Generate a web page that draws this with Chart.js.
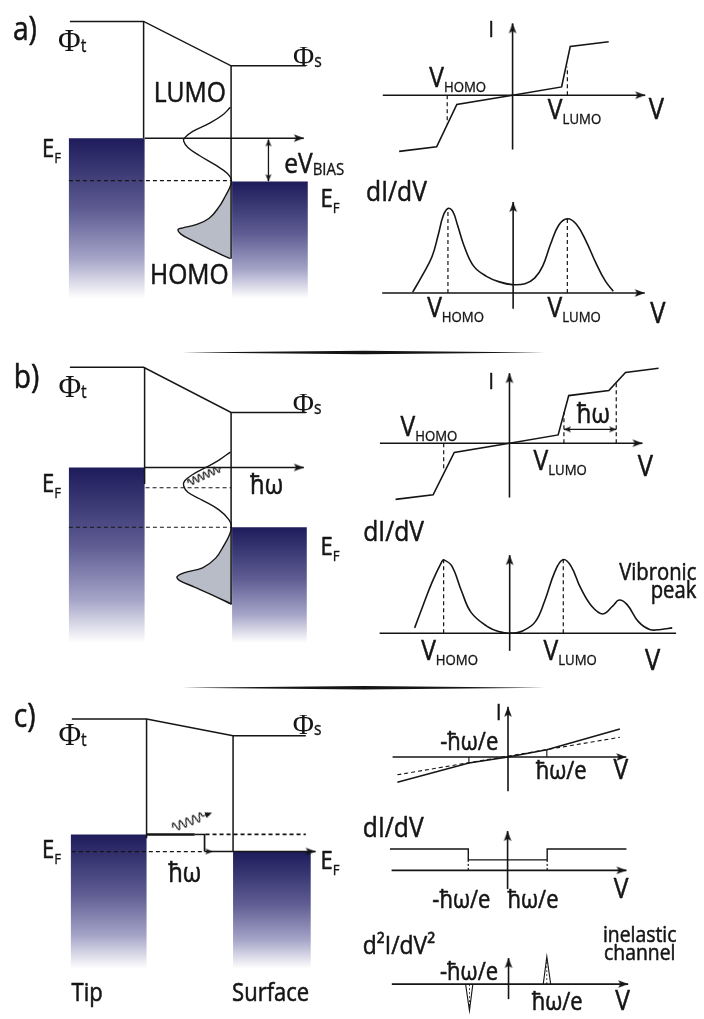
<!DOCTYPE html>
<html>
<head>
<meta charset="utf-8">
<script src="https://cdn.jsdelivr.net/npm/chart.js@4.4.1/dist/chart.umd.min.js"></script>
<style>
  html, body { margin: 0; padding: 0; background: #fff; overflow: hidden; }
  #page { position: relative; width: 704px; height: 1019px; }
  #page canvas { position: absolute; }
</style>
</head>
<body>
<div id="page"></div>
<script>
// ---- panel a, energy diagram (x = position, y = energy relative to tip E_F)
const aVacuum   = [[0.65, 1.21], [1.40, 1.21], [2.29, 0.75], [3.05, 0.75]];
const aTipWall  = [[1.40, 1.21], [1.40, 0]];
const aSurfWall = [[2.29, 0.75], [2.29, -1.25]];
const aTipBand  = [[0.64, -1.66], [0.64, 0], [1.41, 0], [1.41, -1.66]];
const aSurfBand = [[2.30, -1.66], [2.30, -0.45], [3.07, -0.45], [3.07, -1.66]];
const aFermi    = [[1.41, 0], [3.03, 0]];
const aBias     = [[2.67, -0.013], [2.67, -0.447]];
const aSurfEF   = [[0.64, -0.44], [2.29, -0.44]];
const aDos = [[2.283, 0.32], [2.20, 0.237], [2.067, 0.153], [1.90, 0.07], [1.817, 0.003], [1.807, -0.03],
  [1.85, -0.097], [1.967, -0.18], [2.133, -0.28], [2.25, -0.363], [2.293, -0.43], [2.283, -0.497],
  [2.233, -0.597], [2.167, -0.713], [2.067, -0.83], [1.933, -0.897], [1.80, -0.93], [1.75, -0.947],
  [1.783, -0.997], [1.90, -1.063], [2.067, -1.147], [2.20, -1.213], [2.283, -1.247]];
const aHomo = aDos.slice(10);

// ---- panel a, I(V) and dI/dV
const ivA = [[-1.18, -0.61], [-0.79, -0.56], [-0.58, -0.10], [0, 0], [0.51, 0.09], [0.60, 0.53], [1.00, 0.58]];
const ivAMarks = [[[-0.68, 0], [-0.68, -0.31]], [[0.57, 0], [0.57, 0.31]]];
const didvA = [[-1.043, 0.01], [-0.943, 0.19], [-0.843, 0.39], [-0.777, 0.63], [-0.727, 0.83], [-0.677, 0.91],
  [-0.627, 0.88], [-0.577, 0.73], [-0.51, 0.51], [-0.41, 0.29], [-0.277, 0.18], [-0.143, 0.12], [-0.01, 0.09],
  [0.123, 0.10], [0.223, 0.16], [0.307, 0.29], [0.39, 0.53], [0.473, 0.73], [0.563, 0.80], [0.657, 0.74],
  [0.757, 0.56], [0.857, 0.33], [0.957, 0.13], [1.04, 0.02]];
const didvAMarks = [[[-0.677, 0], [-0.677, 0.91]], [[0.563, 0], [0.563, 0.80]]];

// ---- panel b, energy diagram
const bVacuum   = [[0.65, 1.04], [1.40, 1.04], [2.29, 0.57], [3.05, 0.57]];
const bTipWall  = [[1.41, 1.04], [1.41, -0.17]];
const bSurfWall = [[2.29, 0.57], [2.29, -1.42]];
const bTipBand  = [[0.64, -1.82], [0.64, 0], [1.41, 0], [1.41, -1.82]];
const bSurfBand = [[2.30, -1.82], [2.30, -0.62], [3.06, -0.62], [3.06, -1.82]];
const bFermi    = [[1.41, 0], [3.03, 0]];
const bSurfEF   = [[0.64, -0.62], [2.29, -0.62]];
const bVibLevel = [[1.42, -0.21], [2.29, -0.21]];
const bDos = [[2.283, 0.16], [2.167, 0.077], [2.033, 0.0], [1.90, -0.073], [1.817, -0.14], [1.807, -0.19],
  [1.85, -0.257], [2.00, -0.34], [2.167, -0.44], [2.267, -0.54], [2.293, -0.607], [2.277, -0.69],
  [2.217, -0.807], [2.133, -0.94], [2.00, -1.04], [1.817, -1.09], [1.74, -1.133], [1.767, -1.173],
  [1.917, -1.24], [2.10, -1.323], [2.293, -1.417]];
const bHomo = bDos.slice(10);
const bPhonon = [[2.02, -0.082]];
const sepAB = [[1.79, 1.193], [3.64, 1.211], [5.48, 1.193], [3.64, 1.175]];

// ---- panel b, I(V) and dI/dV
const ivB = [[-1.184, -0.61], [-0.794, -0.56], [-0.574, -0.10], [0, 0], [0.506, 0.09], [0.616, 0.517],
  [1.033, 0.573], [1.206, 0.767], [1.55, 0.813]];
const ivBMarks = [[[-0.684, 0], [-0.684, -0.29]], [[0.566, 0], [0.566, 0.34]], [[1.11, 0], [1.11, 0.67]]];
const ivBQuantum = [[0.566, 0.15], [1.11, 0.15]];
const didvB = [[-0.984, 0.057], [-0.90, 0.29], [-0.80, 0.557], [-0.70, 0.774], [-0.684, 0.79], [-0.60, 0.724],
  [-0.50, 0.457], [-0.40, 0.224], [-0.234, 0.074], [-0.10, 0.014], [0, 0], [0.133, 0.024], [0.266, 0.124],
  [0.366, 0.357], [0.466, 0.657], [0.55, 0.79], [0.633, 0.724], [0.733, 0.49], [0.85, 0.29], [0.966, 0.207],
  [1.066, 0.29], [1.133, 0.357], [1.216, 0.307], [1.333, 0.124], [1.45, 0.04], [1.566, 0.04], [1.683, 0.057]];
const didvBMarks = [[[-0.684, 0], [-0.684, 0.79]], [[0.555, 0], [0.555, 0.79]]];

// ---- panel c, energy diagram
const cVacuum   = [[0.67, 1.197], [1.43, 1.197], [2.31, 1.023], [3.05, 1.023]];
const cTipWall  = [[1.43, 1.197], [1.43, -0.04]];
const cSurfWall = [[2.31, 1.023], [2.31, -0.177]];
const cTipBand  = [[0.66, -1.39], [0.66, 0], [1.43, 0], [1.43, -1.39]];
const cSurfBand = [[2.31, -1.39], [2.31, -0.18], [3.10, -0.18], [3.10, -1.39]];
const cTunnel   = [[1.43, 0], [1.92, 0]];
const cTunnelEnd = [[1.92, 0], [2.03, 0]];
const cLoss     = [[2.02, 0], [2.02, -0.177]];
const cArrive   = [[2.02, -0.177], [3.15, -0.177]];
const cTipLevel = [[2.03, 0], [3.05, 0]];
const cSurfEF   = [[0.67, -0.177], [2.00, -0.177]];
const cPhoton   = [[1.897, 0.148]];
const sepBC = [[1.79, 1.52], [3.64, 1.538], [5.48, 1.52], [3.64, 1.502]];

// ---- panel c, I(V), dI/dV, d2I/dV2
const ivC    = [[-1.16, -0.284], [-0.41, -0.067], [0, 0], [0.407, 0.083], [1.173, 0.316]];
const ivCel  = [[-1.16, -0.20], [1.173, 0.223]];
const ivCMarks = [[[-0.41, 0], [-0.41, -0.067]], [[0.407, 0], [0.407, 0.083]]];
const didvC  = [[-1.227, 0.24], [-0.41, 0.24], [-0.41, 0.117], [0.413, 0.117], [0.413, 0.24], [1.24, 0.24]];
const didvCMarks = [[[-0.41, 0.117], [-0.41, 0]], [[0.413, 0.117], [0.413, 0]]];
const d2C_neg = [[-0.445, 0], [-0.405, -0.30], [-0.37, 0]];
const d2C_pos = [[0.36, 0], [0.397, 0.31], [0.437, 0]];
const d2CMarks = [[[-0.405, 0], [-0.405, -0.27]], [[0.397, 0], [0.397, 0.28]]];

// ---------------------------------------------------------------
const U = 100;               // px per unit
const INK = '#151515';
const FONT = '"Open Sans"';
const HSCALE = 0.88;
const page = document.getElementById('page');

function arrowHead(len, half) {
  const s = Math.ceil(len * 2 + 4);
  const c = document.createElement('canvas');
  c.width = c.height = s;
  const g = c.getContext('2d'), m = s / 2;
  g.fillStyle = INK;
  g.beginPath();
  g.moveTo(m, m);
  g.lineTo(m + half, m + len);
  g.lineTo(m, m + len * 0.78);
  g.lineTo(m - half, m + len);
  g.closePath();
  g.fill();
  return c;
}
const ARROW = arrowHead(10, 3.8);
const SMALL = arrowHead(7, 3);

function waveImg(len, amp, cycles, waveLen, head) {
  const s = len + 12;
  const c = document.createElement('canvas');
  c.width = c.height = s;
  const g = c.getContext('2d'), m = s / 2, x0 = m - len / 2;
  g.strokeStyle = INK; g.lineWidth = 1.2;
  g.beginPath();
  for (let i = 0; i <= 120; i++) {
    const t = i / 120, x = x0 + t * waveLen;
    const y = m - amp * Math.sin(t * cycles * 2 * Math.PI);
    if (i === 0) g.moveTo(x, y); else g.lineTo(x, y);
  }
  g.lineTo(x0 + len - (head ? 4 : 0), m);
  g.stroke();
  if (head) {
    g.fillStyle = INK;
    g.beginPath();
    g.moveTo(x0 + len, m); g.lineTo(x0 + len - 7, m - 3); g.lineTo(x0 + len - 7, m + 3);
    g.closePath(); g.fill();
  }
  return c;
}
const PHONON = waveImg(36, 3.4, 6, 34, false);
const PHOTON = waveImg(42, 4.2, 4.5, 32, true);

function bandFill(top, bottom) {
  return (c) => {
    const ch = c.chart, ys = ch.scales && ch.scales.y;
    if (!ys || !ch.chartArea) return '#3a3870';
    const g = ch.ctx.createLinearGradient(0, ys.getPixelForValue(top), 0, ys.getPixelForValue(bottom));
    g.addColorStop(0, '#1d1b5a');
    g.addColorStop(0.45, '#5f5d93');
    g.addColorStop(0.75, '#a4a3c7');
    g.addColorStop(1, '#ffffff');
    return g;
  };
}

const L = (data, o) => Object.assign({ data, showLine: true, borderColor: INK, borderWidth: 1.5,
  pointRadius: 0, fill: false, tension: 0, order: 0 }, o || {});
const D = (data, o) => L(data, Object.assign({ borderDash: [4, 3], borderWidth: 1.2 }, o || {}));
const SHAPE = (data, color, o) => L(data, Object.assign({ fill: 'shape', backgroundColor: color,
  borderColor: 'rgba(0,0,0,0)', borderWidth: 0.01, order: 5 }, o || {}));
const HEADS = (pts, rots, img) => ({ data: pts, showLine: false, pointRadius: 5, pointStyle: img || ARROW,
  pointRotation: rots, order: 0 });

function textPlugin(items) {
  return {
    id: 'texts',
    afterDatasetsDraw(chart) {
      const ctx = chart.ctx, xs = chart.scales.x, ys = chart.scales.y;
      items.forEach(it => {
        const size = it.size || 27;
        const k = it.serif ? 1 : HSCALE;
        const mainFont = size + 'px ' + (it.serif ? '"Liberation Serif"' : FONT);
        const ss = it.subSize || Math.round(size * 0.56);
        const subFont = ss + 'px ' + FONT;
        ctx.save();
        ctx.fillStyle = INK; ctx.strokeStyle = INK; ctx.lineWidth = 0.55; ctx.lineJoin = 'round';
        ctx.textBaseline = 'alphabetic';
        ctx.font = mainFont;
        const w = ctx.measureText(it.t).width * k;
        let sw = 0;
        if (it.sub) { ctx.font = subFont; sw = ctx.measureText(it.sub).width * HSCALE; }
        let x = xs.getPixelForValue(it.x);
        const y = ys.getPixelForValue(it.y);
        if (it.align === 'center') x -= (w + sw) / 2;
        else if (it.align === 'right') x -= (w + sw);
        ctx.translate(x, y);
        ctx.save(); ctx.scale(k, 1); ctx.font = mainFont;
        ctx.fillText(it.t, 0, 0); if (!it.serif) ctx.strokeText(it.t, 0, 0);
        ctx.restore();
        if (it.sub) {
          const dy = it.subDy !== undefined ? it.subDy : size * 0.2;
          ctx.translate(w, dy); ctx.scale(HSCALE, 1); ctx.font = subFont;
          ctx.lineWidth = 0.35; ctx.fillText(it.sub, 0, 0); ctx.strokeText(it.sub, 0, 0);
        }
        ctx.restore();
      });
    }
  };
}

function makeChart(left, top, xr, yr, datasets, texts) {
  const cv = document.createElement('canvas');
  const w = Math.round((xr[1] - xr[0]) * U), h = Math.round((yr[1] - yr[0]) * U);
  cv.width = w; cv.height = h;
  cv.style.left = Math.round(left + xr[0] * U) + 'px';
  cv.style.top = Math.round(top - yr[1] * U) + 'px';
  cv.style.width = w + 'px'; cv.style.height = h + 'px';
  page.appendChild(cv);
  return new Chart(cv, {
    type: 'scatter',
    data: { datasets },
    options: {
      responsive: false, animation: false, events: [],
      layout: { padding: 0 },
      plugins: { legend: { display: false }, tooltip: { enabled: false } },
      scales: {
        x: { type: 'linear', min: xr[0], max: xr[1], display: false, bounds: 'data' },
        y: { type: 'linear', min: yr[0], max: yr[1], display: false, bounds: 'data' }
      }
    },
    plugins: [textPlugin(texts)]
  });
}

const phi = (x, y, s, size) => ({ t: 'Φ', sub: s, x, y, serif: true, size: size || 30, subSize: 18, subDy: 1 });
const ef = (x, y) => ({ t: 'E', sub: 'F', x, y, size: 25, subSize: 15, subDy: 6 });
const vlab = (x, y, s) => ({ t: 'V', sub: s, x, y, size: 28, subSize: 15, subDy: 5 });
const axes = (x0, x1, y0, y1, arrowX) => [
  L([[x0, 0], [x1, 0]], { borderWidth: 1.6 }),
  L([[0, y0], [0, y1]], { borderWidth: 1.6 }),
  HEADS(arrowX === false ? [[0, y1]] : [[x1, 0], [0, y1]], arrowX === false ? [0] : [90, 0])
];

// ---------------- left column: energy diagrams (full width so separators fit)
makeChart(0, 137, [0, 7.04], [-2.03, 1.37], [
  L(aVacuum), L(aTipWall), L(aSurfWall), L(aFermi),
  HEADS([aFermi[1]], [90]),
  L(aBias, { borderWidth: 1.3 }), HEADS([aBias[0], aBias[1]], [0, 180], SMALL),
  D(aSurfEF),
  L(aDos, { tension: 0.4, borderWidth: 1.4 }),
  SHAPE(aHomo, '#b8bcc6', { tension: 0.4, order: 4 }),
  SHAPE(aTipBand, bandFill(0, -1.66)), SHAPE(aSurfBand, bandFill(-0.45, -1.66))
], [
  { t: 'a)', x: 0.07, y: 1.02, size: 32 },
  phi(0.53, 0.90, 't', 31), phi(2.92, 0.75, 's', 29),
  { t: 'LUMO', x: 1.87, y: 0.37, size: 28, align: 'center' },
  { t: 'HOMO', x: 1.865, y: -1.51, size: 28, align: 'center' },
  ef(0.367, -0.197), ef(3.20, -0.713),
  { t: 'eV', sub: 'BIAS', x: 2.83, y: -0.36, size: 28, subSize: 17, subDy: 2 }
]);

makeChart(0, 466, [0, 7.04], [-2.09, 1.26], [
  L(bVacuum), L(bTipWall), L(bSurfWall), L(bFermi),
  HEADS([bFermi[1]], [90]),
  D(bSurfEF), D(bVibLevel),
  L(bDos, { tension: 0.4, borderWidth: 1.4 }),
  HEADS(bPhonon, [-24.7], PHONON),
  SHAPE(bHomo, '#b8bcc6', { tension: 0.4, order: 4 }),
  SHAPE(bTipBand, bandFill(0, -1.82)), SHAPE(bSurfBand, bandFill(-0.62, -1.82)),
  SHAPE(sepAB, INK, { order: 1 })
], [
  { t: 'b)', x: 0.08, y: 0.827, size: 32 },
  phi(0.533, 0.727, 't', 31), phi(2.917, 0.56, 's', 29),
  ef(0.367, -0.257), ef(3.20, -0.907),
  { t: 'ħω', x: 2.483, y: -0.273, size: 27 }
]);

makeChart(0, 834, [0, 7.04], [-1.85, 1.59], [
  L(cVacuum), L(cTipWall), L(cSurfWall),
  L(cTunnel, { borderWidth: 2.6 }), L(cTunnelEnd), L(cLoss, { borderWidth: 1.7 }),
  L(cArrive), HEADS([cArrive[1]], [90]), HEADS([[2.10, -0.177]], [90], SMALL),
  D(cTipLevel, { borderWidth: 1.7, borderDash: [4, 3] }), D(cSurfEF),
  HEADS(cPhoton, [-20.9], PHOTON),
  SHAPE(cTipBand, bandFill(0, -1.39)), SHAPE(cSurfBand, bandFill(-0.18, -1.39)),
  SHAPE(sepBC, INK, { order: 1 })
], [
  { t: 'c)', x: 0.08, y: 1.11, size: 32 },
  phi(0.533, 0.923, 't', 31), phi(2.917, 1.04, 's', 29),
  ef(0.367, -0.24), ef(3.20, -0.36),
  { t: 'ħω', x: 1.65, y: -0.49, size: 27 },
  { t: 'Tip', x: 0.667, y: -1.727, size: 25 },
  { t: 'Surface', x: 2.30, y: -1.727, size: 25 }
]);

// ---------------- right column: spectra
makeChart(512, 96, [-1.40, 1.70], [-0.66, 0.86], [
  ...axes(-1.35, 1.38, -0.59, 0.78),
  L(ivA, { borderWidth: 1.6 }),
  ...ivAMarks.map(m => D(m))
], [
  { t: 'I', x: -0.25, y: 0.63, size: 22 },
  { t: 'V', x: 1.417, y: -0.257, size: 29 },
  vlab(-0.867, 0.087, 'HOMO'), vlab(0.367, -0.26, 'LUMO')
]);

makeChart(513, 296, [-1.58, 1.65], [-0.42, 1.25], [
  ...axes(-1.36, 1.367, -0.17, 0.98),
  L(didvA, { tension: 0.4, borderWidth: 1.6 }),
  ...didvAMarks.map(m => D(m))
], [
  { t: 'dI/dV', x: -1.527, y: 0.993, size: 28 },
  vlab(-0.893, -0.257, 'HOMO'), vlab(0.357, -0.257, 'LUMO'),
  { t: 'V', x: 1.423, y: -0.32, size: 29 }
]);

makeChart(508.7, 444, [-1.45, 1.70], [-0.66, 0.86], [
  ...axes(-1.347, 1.383, -0.59, 0.76),
  L(ivB, { borderWidth: 1.6 }),
  ...ivBMarks.map(m => D(m)),
  L(ivBQuantum, { borderWidth: 1.4 }), HEADS(ivBQuantum, [-90, 90], SMALL)
], [
  { t: 'I', x: -0.217, y: 0.59, size: 22 },
  { t: 'V', x: 1.333, y: -0.36, size: 29 },
  vlab(-1.133, 0.073, 'HOMO'), vlab(0.25, -0.29, 'LUMO'),
  { t: 'ħω', x: 0.70, y: 0.223, size: 27 }
]);

makeChart(508.7, 635.7, [-1.55, 1.95], [-0.45, 1.25], [
  ...axes(-1.347, 1.723, -0.19, 0.84, false),
  L(didvB, { tension: 0.4, borderWidth: 1.6 }),
  ...didvBMarks.map(m => D(m))
], [
  { t: 'dI/dV', x: -1.517, y: 0.99, size: 28 },
  vlab(-0.917, -0.293, 'HOMO'), vlab(0.35, -0.293, 'LUMO'),
  { t: 'V', x: 1.40, y: -0.393, size: 29 },
  { t: 'Vibronic', x: 1.933, y: 0.573, size: 23, align: 'right' },
  { t: 'peak', x: 1.933, y: 0.374, size: 23, align: 'right' }
]);

makeChart(508, 758.3, [-1.30, 1.30], [-0.45, 0.62], [
  ...axes(-1.21, 1.24, -0.384, 0.566),
  L(ivC, { borderWidth: 1.5 }),
  D(ivCel, { borderWidth: 1.1 }),
  ...ivCMarks.map(m => L(m, { borderWidth: 1.1 }))
], [
  { t: 'I', x: -0.127, y: 0.417, size: 22 },
  { t: '-ħω/e', x: -0.71, y: 0.083, size: 25 },
  { t: 'ħω/e', x: 0.29, y: -0.25, size: 25 },
  { t: 'V', x: 1.107, y: -0.25, size: 28 }
]);

makeChart(508, 870.7, [-1.55, 1.35], [-0.50, 0.62], [
  ...axes(-1.21, 1.24, -0.21, 0.44),
  L(didvC, { borderWidth: 1.4 }),
  ...didvCMarks.map(m => D(m, { borderDash: [2, 2] }))
], [
  { t: 'dI/dV', x: -1.51, y: 0.373, size: 28 },
  { t: '-ħω/e', x: -0.785, y: -0.427, size: 25 },
  { t: 'ħω/e', x: 0.0, y: -0.427, size: 25 },
  { t: 'V', x: 1.107, y: -0.31, size: 28 }
]);

makeChart(508, 986, [-1.55, 1.85], [-0.36, 0.70], [
  ...axes(-1.21, 1.24, -0.17, 0.293),
  L(d2C_neg, { borderWidth: 1.1 }), L(d2C_pos, { borderWidth: 1.1 }),
  ...d2CMarks.map(m => D(m, { borderDash: [2, 2], borderWidth: 0.8 }))
], [
  { t: 'd²I/dV²', x: -1.51, y: 0.343, size: 26 },
  { t: '-ħω/e', x: -0.71, y: 0.043, size: 25 },
  { t: 'ħω/e', x: 0.24, y: -0.29, size: 25 },
  { t: 'V', x: 1.107, y: -0.29, size: 28 },
  { t: 'inelastic', x: 1.36, y: 0.47, size: 22, align: 'center' },
  { t: 'channel', x: 1.36, y: 0.27, size: 22, align: 'center' }
]);
</script>
</body>
</html>
